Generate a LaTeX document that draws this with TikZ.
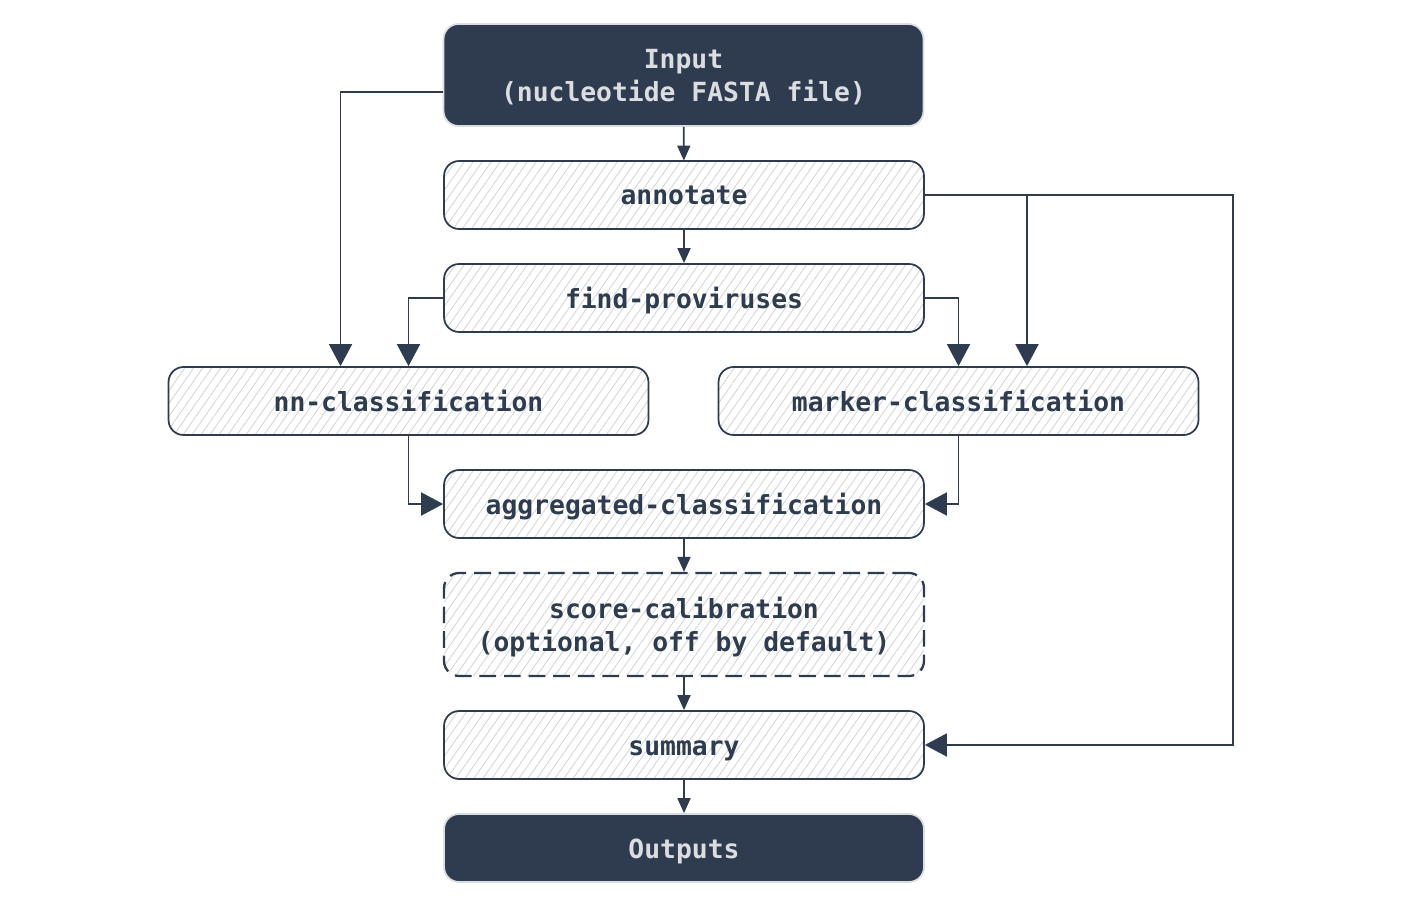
\documentclass[tikz,border=0pt]{standalone}
\usepackage{fontspec}
\setmonofont{DejaVu Sans Mono}
\usetikzlibrary{arrows.meta,patterns.meta}
\definecolor{slate}{HTML}{2F3B4E}
\definecolor{hatch}{HTML}{D2D5D9}
\definecolor{pale}{HTML}{DADDE2}

\begin{document}
\begin{tikzpicture}[x=0.02cm, y=-0.02cm,
    every node/.style={font=\ttfamily\bfseries\fontsize{15}{18.7}\selectfont},
    stage/.style={draw=slate, line width=1pt, rounded corners=0.3cm,
        text=slate, minimum width=9.6cm, minimum height=1.36cm, align=center,
        text height=0.5cm, text depth=0.1cm,
        pattern={Lines[angle=55,distance=4.2pt,line width=0.5pt]}, pattern color=hatch},
    io/.style={draw=pale, line width=1pt, fill=slate, rounded corners=0.3cm,
        text=pale, minimum width=9.6cm, minimum height=1.36cm, align=center,
        text height=0.5cm, text depth=0.1cm},
    twoline/.style={text height=1.16cm},
    link/.style={draw=slate, line width=1pt, -{Triangle[width=0.26cm,length=0.3cm]}},
    feed/.style={draw=slate, line width=1pt, -{Triangle[width=0.46cm,length=0.44cm]}}]
    \useasboundingbox (0,0) rectangle (1408,902);

    % Stages
    \node[io, twoline, minimum height=2.04cm] (input) at (683.5,75) {Input\\(nucleotide FASTA file)};
    \node[stage] (annotate) at (684,195) {annotate};
    \node[stage] (findpro) at (684,298) {find-proviruses};
    \node[stage] (nn) at (408.5,401) {nn-classification};
    \node[stage] (marker) at (958.5,401) {marker-classification};
    \node[stage] (aggr) at (684,504) {aggregated-classification};
    \node[stage, twoline, dashed, dash pattern=on 9.5pt off 4.5pt, line width=1.3pt, minimum height=2.06cm] (calib) at (684,624.5)
        {score-calibration\\(optional, off by default)};
    \node[stage] (summary) at (684,745) {summary};
    \node[io] (outputs) at (684,848) {Outputs};

    % Main chain
    \draw[link] (input) -- (annotate);
    \draw[link] (annotate) -- (findpro);
    \draw[link] (aggr) -- (calib);
    \draw[link] (calib) -- (summary);
    \draw[link] (summary) -- (outputs);

    % Side feeds
    \coordinate (corner) at (1233,195);
    \draw[feed] ([yshift=-0.34cm]input.west) -| ([xshift=-1.36cm]nn.north);
    \draw[feed] (findpro.west) -| (nn.north);
    \draw[feed] (findpro.east) -| (marker.north);
    \draw[feed] (annotate.east) -| ([xshift=1.37cm]marker.north);
    \draw[feed] (annotate.east) -- (corner) |- (summary.east);
    \draw[feed] (nn.south) |- (aggr.west);
    \draw[feed] (marker.south) |- (aggr.east);
\end{tikzpicture}
\end{document}
